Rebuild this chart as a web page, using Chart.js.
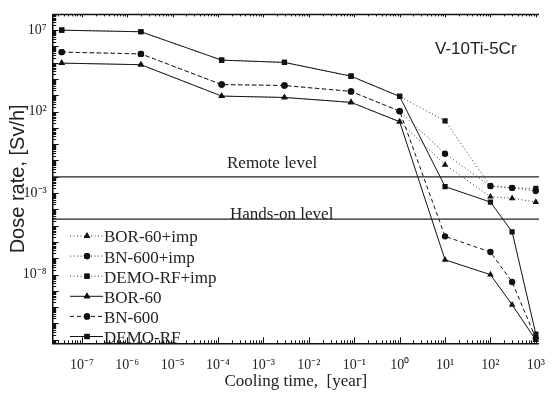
<!DOCTYPE html>
<html>
<head>
<meta charset="utf-8">
<script src="https://cdn.jsdelivr.net/npm/chart.js@4/dist/chart.umd.min.js"></script>
<style>
html,body{margin:0;padding:0;background:#fff;}
#wrap{width:559px;height:396px;}
</style>
</head>
<body>
<div id="wrap"><canvas id="c" width="559" height="396"></canvas></div>
<script>
// Cooling time [year]
const coolingTime = [3.6e-8, 2e-6, 1.2e-4, 2.9e-3, 0.085, 1, 10, 100, 300, 1000];
// Dose rate [Sv/h]
const bor60Imp  = [9.5e4, 7.6e4, 9e2, 7.4e2, 3.7e2, 24, 0.055, 6e-4, 4.8e-4, 2.8e-4];
const bn600Imp  = [4.5e5, 3.5e5, 4.6e3, 4e3, 1.75e3, 107, 0.26, 2.7e-3, 2.1e-3, 1.35e-3];
const demoRfImp = [1e7, 8e6, 1.45e5, 1.05e5, 1.5e4, 850, 27.5, 2.7e-3, 2.1e-3, 1.95e-3];
const bor60     = [9.5e4, 7.6e4, 9e2, 7.4e2, 3.7e2, 24, 8e-8, 9.8e-9, 1.4e-10, 9.5e-13];
const bn600     = [4.5e5, 3.5e5, 4.6e3, 4e3, 1.75e3, 107, 2.2e-6, 2.4e-7, 3.5e-9, 1.2e-12];
const demoRf    = [1e7, 8e6, 1.45e5, 1.05e5, 1.5e4, 850, 2.5e-3, 2.8e-4, 4.2e-6, 2.2e-12];
const seriesNames = ['BOR-60+imp', 'BN-600+imp', 'DEMO-RF+imp', 'BOR-60', 'BN-600', 'DEMO-RF'];
// Reference levels [Sv/h]
const remoteLevel = 1e-2;
const handsOnLevel = 2.5e-5;
const levelLabels = ['Remote level', 'Hands-on level'];
const materialLabel = 'V-10Ti-5Cr';
// Tick labels
const xTickExps = [-7, -6, -5, -4, -3, -2, -1, 0, 1, 2, 3];
const yTickExps = [-8, -3, 2, 7];

const SUP = {'-':'\u207B','0':'\u2070','1':'\u00B9','2':'\u00B2','3':'\u00B3','4':'\u2074','5':'\u2075','6':'\u2076','7':'\u2077','8':'\u2078','9':'\u2079'};
function pow10Label(v){
  const e = Math.round(Math.log10(v));
  return '10' + String(e).split('').map(c => SUP[c]).join('');
}
const pts = arr => arr.map((y, i) => ({x: coolingTime[i], y}));

const DOT = [1, 2.5], DASH = [4, 3], SOLID = [];
const styles = [
  {data: bor60Imp, dash: DOT, ps: 'triangle', col: '#333'},
  {data: bn600Imp, dash: DOT, ps: 'circle', col: '#333'},
  {data: demoRfImp, dash: DOT, ps: 'rect', col: '#333'},
  {data: bor60, dash: SOLID, ps: 'triangle', col: '#111'},
  {data: bn600, dash: DASH, ps: 'circle', col: '#111'},
  {data: demoRf, dash: SOLID, ps: 'rect', col: '#111'}
];
const radiusFor = ps => ps === 'triangle' ? 3.8 : (ps === 'rect' ? 3.7 : 3.2);
const datasets = styles.map((s, i) => ({
  label: seriesNames[i],
  data: pts(s.data),
  borderColor: s.col,
  backgroundColor: '#111',
  borderWidth: 1,
  borderDash: s.dash,
  pointStyle: s.ps,
  pointRadius: radiusFor(s.ps),
  pointBorderWidth: 0,
  pointBackgroundColor: '#111',
  tension: 0
}));

const decorPlugin = {
  id: 'decor',
  afterDraw(chart) {
    const ctx = chart.ctx, xs = chart.scales.x, ys = chart.scales.y, ca = chart.chartArea;
    ctx.save();
    // top border
    ctx.strokeStyle = '#111'; ctx.lineWidth = 1.5; ctx.setLineDash([]);
    ctx.beginPath(); ctx.moveTo(ca.left, ca.top); ctx.lineTo(ca.right, ca.top); ctx.stroke();
    // inside ticks
    ctx.lineWidth = 1;
    for (let k = -9; k <= 3; k++) {
      for (let m = 1; m <= 9; m++) {
        const v = m * Math.pow(10, k);
        if (v < xs.min || v > xs.max) continue;
        const px = Math.round(xs.getPixelForValue(v)) + 0.5;
        const len = m === 1 ? 6 : 3;
        ctx.beginPath(); ctx.moveTo(px, ca.bottom); ctx.lineTo(px, ca.bottom - len); ctx.stroke();
        ctx.beginPath(); ctx.moveTo(px, ca.top); ctx.lineTo(px, ca.top + (m === 1 ? 3 : 2)); ctx.stroke();
      }
    }
    for (let k = -13; k <= 8; k++) {
      for (let m = 1; m <= 9; m++) {
        const v = m * Math.pow(10, k);
        if (v < ys.min || v > ys.max) continue;
        const py = Math.round(ys.getPixelForValue(v)) + 0.5;
        const len = m === 1 ? 6 : 3.5;
        ctx.beginPath(); ctx.moveTo(ca.left, py); ctx.lineTo(ca.left + len, py); ctx.stroke();
      }
    }
    // level lines
    ctx.strokeStyle = '#222'; ctx.lineWidth = 1.2;
    [remoteLevel, handsOnLevel].forEach(v => {
      const py = ys.getPixelForValue(v);
      ctx.beginPath(); ctx.moveTo(ca.left, py); ctx.lineTo(ca.right, py); ctx.stroke();
    });
    ctx.fillStyle = '#222';
    ctx.font = '17px "Liberation Serif", "Times New Roman", serif';
    ctx.textAlign = 'left'; ctx.textBaseline = 'middle';
    ctx.fillText(levelLabels[0], 227, ys.getPixelForValue(remoteLevel) - 13);
    ctx.fillText(levelLabels[1], 230, ys.getPixelForValue(handsOnLevel) - 5);
    // material label
    ctx.font = '17px "Liberation Sans", Arial, sans-serif';
    ctx.fillText(materialLabel, 435, 49);
    // legend
    const rowY0 = 236, rowH = 20.1;
    chart.data.datasets.forEach((ds, i) => {
      const y = rowY0 + i * rowH;
      ctx.strokeStyle = ds.borderColor; ctx.lineWidth = 1; ctx.setLineDash(ds.borderDash);
      ctx.beginPath(); ctx.moveTo(70, y); ctx.lineTo(103, y); ctx.stroke();
      ctx.setLineDash([]);
      ctx.fillStyle = '#111';
      Chart.helpers.drawPoint(ctx, {pointStyle: ds.pointStyle, radius: ds.pointRadius, borderWidth: 0, rotation: 0}, 87, y);
      ctx.fill();
      ctx.fillStyle = '#222';
      ctx.font = '17px "Liberation Serif", "Times New Roman", serif';
      ctx.textBaseline = 'middle';
      ctx.fillText(ds.label, 104, y + 2);
    });
    ctx.restore();
  }
};

new Chart(document.getElementById('c'), {
  type: 'line',
  data: {datasets},
  plugins: [decorPlugin],
  options: {
    responsive: false,
    animation: false,
    devicePixelRatio: 1,
    layout: {padding: {top: 10.7, right: 9, left: 0, bottom: 0}},
    plugins: {legend: {display: false}, tooltip: {enabled: false}},
    scales: {
      x: {
        type: 'logarithmic',
        min: 2.28e-8, max: 1170,
        afterFit(s) { s.height = 52.7; },
        afterBuildTicks(s) { s.ticks = xTickExps.map(e => ({value: Math.pow(10, e)})); },
        grid: {display: false, drawTicks: false},
        border: {display: true, color: '#111', width: 1.5},
        ticks: {
          autoSkip: false, maxRotation: 0, padding: 14, color: '#222',
          font: {family: '"Liberation Serif", "Times New Roman", serif', size: 14},
          callback: v => pow10Label(v)
        },
        title: {display: true, text: 'Cooling time,  [year]', color: '#222',
          font: {family: '"Liberation Serif", "Times New Roman", serif', size: 17},
          padding: {top: 0, bottom: 4}}
      },
      y: {
        type: 'logarithmic',
        min: 6e-13, max: 9.3e7,
        afterFit(s) { s.width = 52.7; },
        afterBuildTicks(s) { s.ticks = yTickExps.map(e => ({value: Math.pow(10, e)})); },
        grid: {display: false, drawTicks: false},
        border: {display: true, color: '#111', width: 1.5},
        ticks: {
          autoSkip: false, padding: 6, color: '#222',
          font: {family: '"Liberation Serif", "Times New Roman", serif', size: 14},
          callback: v => pow10Label(v)
        },
        title: {display: true, text: 'Dose rate, [Sv/h]', color: '#222',
          font: {family: '"Liberation Sans", Arial, sans-serif', size: 20},
          padding: {top: 6, bottom: 0}}
      }
    }
  }
});
</script>
</body>
</html>
